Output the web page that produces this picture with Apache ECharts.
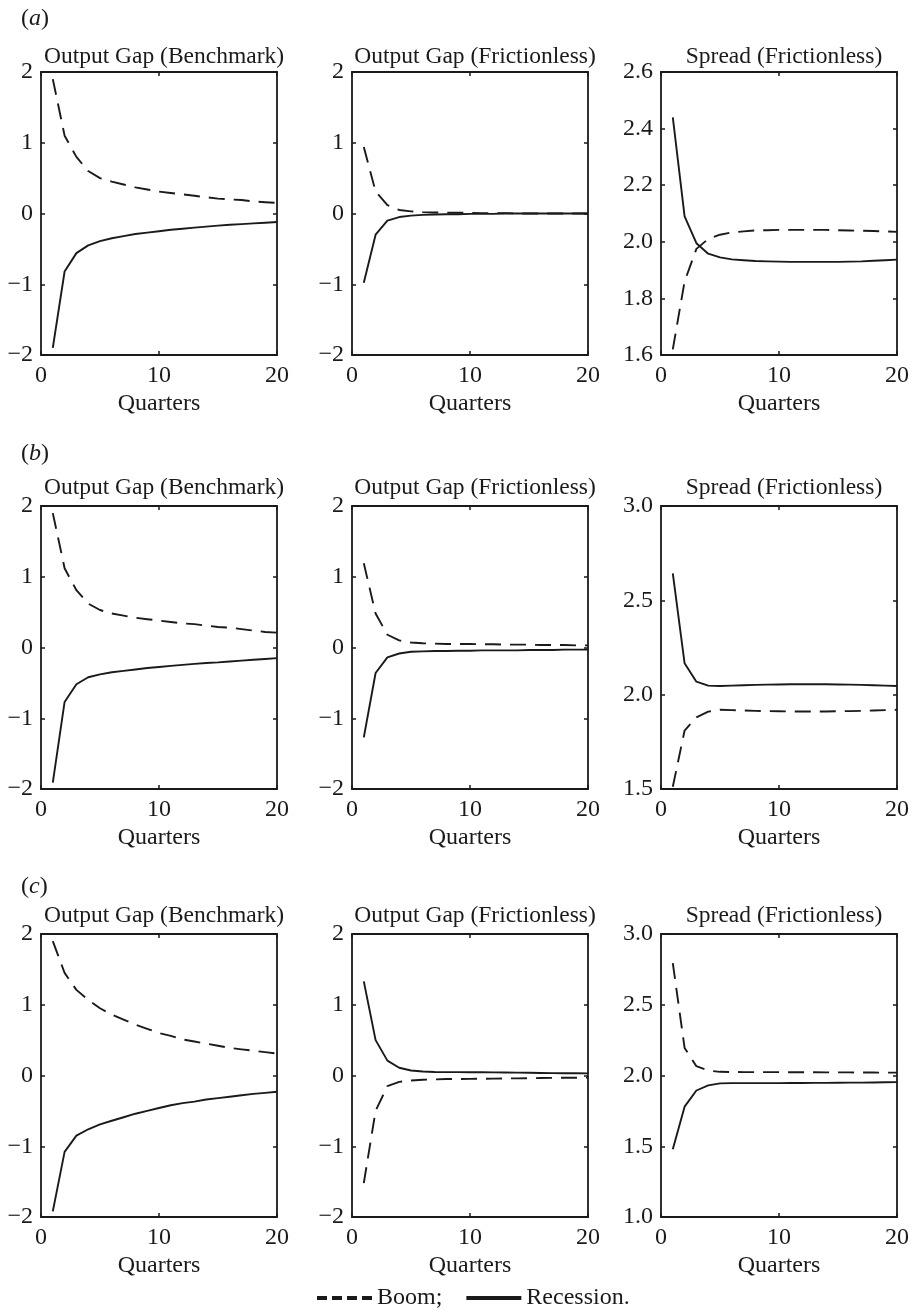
<!DOCTYPE html>
<html>
<head>
<meta charset="utf-8">
<script src="https://cdn.jsdelivr.net/npm/echarts@6/dist/echarts.min.js"></script>
<style>
html,body{margin:0;padding:0;background:#fff;}
#chart{width:913px;height:1313px;}
</style>
</head>
<body>
<div id="chart"></div>
<script>
// ---------- DATA ----------
const quarters = [1,2,3,4,5,6,7,8,9,10,11,12,13,14,15,16,17,18,19,20];

const panelTitles = ['Output Gap (Benchmark)', 'Output Gap (Frictionless)', 'Spread (Frictionless)'];
const rowLabels = ['a', 'b', 'c'];
const xTicks = [0, 10, 20];

// Row (a)
const boomA1 = [1.90,1.10,0.80,0.60,0.50,0.45,0.41,0.37,0.34,0.31,0.29,0.27,0.25,0.23,0.21,0.20,0.19,0.17,0.16,0.15];
const recA1  = [-1.90,-0.82,-0.56,-0.45,-0.39,-0.35,-0.32,-0.29,-0.27,-0.25,-0.23,-0.215,-0.20,-0.185,-0.172,-0.16,-0.15,-0.14,-0.13,-0.12];
const boomA2 = [0.94,0.31,0.12,0.05,0.03,0.02,0.015,0.01,0.01,0.01,0.005,0.005,0.005,0,0,0,0,0,0,0];
const recA2  = [-0.98,-0.30,-0.10,-0.05,-0.03,-0.02,-0.015,-0.01,-0.01,-0.005,-0.005,-0.005,0,0,0,0,0,0,0,0];
const boomA3 = [1.62,1.86,1.975,2.01,2.025,2.033,2.037,2.040,2.041,2.042,2.042,2.042,2.042,2.042,2.041,2.040,2.039,2.038,2.037,2.035];
const recA3  = [2.44,2.09,1.995,1.958,1.945,1.938,1.935,1.932,1.931,1.930,1.929,1.929,1.929,1.929,1.929,1.930,1.931,1.933,1.935,1.937];

// Row (b)
const boomB1 = [1.90,1.12,0.81,0.62,0.53,0.48,0.45,0.42,0.40,0.38,0.36,0.34,0.33,0.31,0.29,0.28,0.26,0.24,0.22,0.21];
const recB1  = [-1.91,-0.77,-0.52,-0.42,-0.38,-0.35,-0.33,-0.31,-0.29,-0.275,-0.26,-0.245,-0.232,-0.22,-0.21,-0.198,-0.186,-0.174,-0.162,-0.15];
const boomB2 = [1.19,0.48,0.18,0.10,0.07,0.06,0.055,0.05,0.05,0.05,0.045,0.045,0.04,0.04,0.04,0.035,0.035,0.035,0.03,0.03];
const recB2  = [-1.27,-0.36,-0.14,-0.085,-0.06,-0.055,-0.05,-0.05,-0.045,-0.045,-0.04,-0.04,-0.04,-0.04,-0.035,-0.035,-0.035,-0.03,-0.03,-0.03];
const boomB3 = [1.512,1.81,1.88,1.91,1.92,1.918,1.916,1.914,1.913,1.912,1.911,1.911,1.911,1.911,1.912,1.913,1.914,1.916,1.918,1.920];
const recB3  = [2.643,2.166,2.069,2.048,2.046,2.048,2.050,2.052,2.053,2.054,2.055,2.055,2.055,2.055,2.054,2.053,2.052,2.050,2.048,2.046];

// Row (c)
const boomC1 = [1.90,1.45,1.21,1.07,0.95,0.86,0.79,0.72,0.66,0.60,0.56,0.51,0.48,0.45,0.42,0.39,0.37,0.35,0.33,0.31];
const recC1  = [-1.92,-1.08,-0.85,-0.76,-0.69,-0.64,-0.59,-0.54,-0.50,-0.46,-0.42,-0.39,-0.37,-0.34,-0.32,-0.30,-0.28,-0.26,-0.245,-0.23];
const boomC2 = [-1.52,-0.50,-0.15,-0.09,-0.07,-0.06,-0.055,-0.05,-0.05,-0.048,-0.046,-0.044,-0.042,-0.04,-0.038,-0.036,-0.034,-0.032,-0.031,-0.03];
const recC2  = [1.33,0.50,0.21,0.11,0.07,0.056,0.05,0.048,0.047,0.046,0.045,0.044,0.042,0.04,0.038,0.036,0.034,0.032,0.031,0.03];
const boomC3 = [2.795,2.195,2.066,2.035,2.026,2.025,2.024,2.024,2.024,2.024,2.023,2.023,2.023,2.022,2.022,2.022,2.021,2.021,2.020,2.020];
const recC3  = [1.478,1.78,1.894,1.93,1.944,1.946,1.946,1.946,1.946,1.946,1.947,1.947,1.948,1.948,1.949,1.950,1.950,1.951,1.952,1.953];

// y-axis ranges per panel [min, max, interval]
const yRangeOG = [-2, 2, 1];
const yRangeA3 = [1.6, 2.6, 0.2];
const yRangeB3 = [1.5, 3.0, 0.5];
const yRangeC3 = [1.0, 3.0, 0.5];

// ---------- LAYOUT ----------
const FONT = '"Liberation Serif", "Times New Roman", serif';
const INK = '#1a1a1a';
const colLeft = [41, 352, 661];
const colWidth = 236;
const rowTop = [72, 506, 934];
const rowHeight = 283;
const titleCenterY = [54, 485, 913];
const rowLabelY = [15, 450, 883];

const panels = [
  {boom: boomA1, rec: recA1, yr: yRangeOG, dec: 0},
  {boom: boomA2, rec: recA2, yr: yRangeOG, dec: 0},
  {boom: boomA3, rec: recA3, yr: yRangeA3, dec: 1},
  {boom: boomB1, rec: recB1, yr: yRangeOG, dec: 0},
  {boom: boomB2, rec: recB2, yr: yRangeOG, dec: 0},
  {boom: boomB3, rec: recB3, yr: yRangeB3, dec: 1},
  {boom: boomC1, rec: recC1, yr: yRangeOG, dec: 0},
  {boom: boomC2, rec: recC2, yr: yRangeOG, dec: 0},
  {boom: boomC3, rec: recC3, yr: yRangeC3, dec: 1}
];

const grids = [], xAxes = [], yAxes = [], series = [], titles = [];

const fmt = (v, dec) => {
  let s = dec ? Number(v).toFixed(dec) : String(Math.round(v));
  return s.replace('-', '\u2212');
};

panels.forEach((p, k) => {
  const r = Math.floor(k / 3), c = k % 3;
  grids.push({left: colLeft[c], top: rowTop[r], width: colWidth, height: rowHeight,
    show: false, containLabel: false});
  const tickStyle = {show: true, inside: true, length: 4, lineStyle: {color: INK, width: 1.5}};
  const lineStyle = {show: true, onZero: false, lineStyle: {color: INK, width: 1.8}};
  xAxes.push({
    type: 'value', gridIndex: k, position: 'bottom', min: 0, max: 20, interval: 10,
    axisLine: lineStyle, axisTick: tickStyle, splitLine: {show: false},
    axisLabel: {show: true, color: INK, fontFamily: FONT, fontSize: 24, margin: 9},
    name: 'Quarters', nameLocation: 'middle', nameGap: 37,
    nameTextStyle: {color: INK, fontFamily: FONT, fontSize: 24}
  });
  xAxes.push({
    type: 'value', gridIndex: k, position: 'top', min: 0, max: 20, interval: 10,
    axisLine: lineStyle, axisTick: tickStyle, splitLine: {show: false},
    axisLabel: {show: false}
  });
  yAxes.push({
    type: 'value', gridIndex: k, position: 'left', min: p.yr[0], max: p.yr[1], interval: p.yr[2],
    axisLine: lineStyle, axisTick: tickStyle, splitLine: {show: false},
    axisLabel: {show: true, color: INK, fontFamily: FONT, fontSize: 24, margin: 8,
      formatter: v => fmt(v, p.dec)}
  });
  yAxes.push({
    type: 'value', gridIndex: k, position: 'right', min: p.yr[0], max: p.yr[1], interval: p.yr[2],
    axisLine: lineStyle, axisTick: tickStyle, splitLine: {show: false},
    axisLabel: {show: false}
  });
  series.push({
    name: 'Boom', type: 'line', xAxisIndex: 2 * k, yAxisIndex: 2 * k,
    data: quarters.map((q, j) => [q, p.boom[j]]),
    symbol: 'none', smooth: false, animation: false, clip: true,
    lineStyle: {color: INK, width: 1.9, type: [16, 9]}, itemStyle: {color: INK}
  });
  series.push({
    name: 'Recession', type: 'line', xAxisIndex: 2 * k, yAxisIndex: 2 * k,
    data: quarters.map((q, j) => [q, p.rec[j]]),
    symbol: 'none', smooth: false, animation: false, clip: true,
    lineStyle: {color: INK, width: 1.9, type: 'solid'}, itemStyle: {color: INK}
  });
  titles.push({
    text: panelTitles[c], left: colLeft[c] + colWidth / 2, top: titleCenterY[r] - 14,
    textAlign: 'center',
    textStyle: {color: INK, fontFamily: FONT, fontSize: 23.5, fontWeight: 'normal'}
  });
});

rowLabels.forEach((lab, r) => {
  titles.push({
    text: '(' + '{i|' + lab + '})', left: 16, top: rowLabelY[r] - 13,
    textStyle: {color: INK, fontFamily: FONT, fontSize: 24, fontWeight: 'normal',
      rich: {i: {fontFamily: FONT, fontSize: 24, fontStyle: 'italic', color: INK}}}
  });
});

const dashIcon = 'path://M0,0h10v4h-10z M15,0h10v4h-10z M30,0h10v4h-10z M45,0h10v4h-10z';

const chart = echarts.init(document.getElementById('chart'), null, {renderer: 'canvas'});
chart.setOption({
  animation: false,
  backgroundColor: '#fff',
  title: titles,
  grid: grids,
  xAxis: xAxes,
  yAxis: yAxes,
  series: series,
  legend: {
    show: true, left: 312, top: 1281, itemWidth: 55, itemHeight: 4, itemGap: 24,
    textStyle: {color: INK, fontFamily: FONT, fontSize: 24},
    formatter: name => name === 'Boom' ? 'Boom;' : 'Recession.',
    data: [
      {name: 'Boom', icon: dashIcon, itemStyle: {color: INK}},
      {name: 'Recession', icon: 'rect', itemStyle: {color: INK}}
    ],
    selectedMode: false
  }
});
</script>
</body>
</html>
